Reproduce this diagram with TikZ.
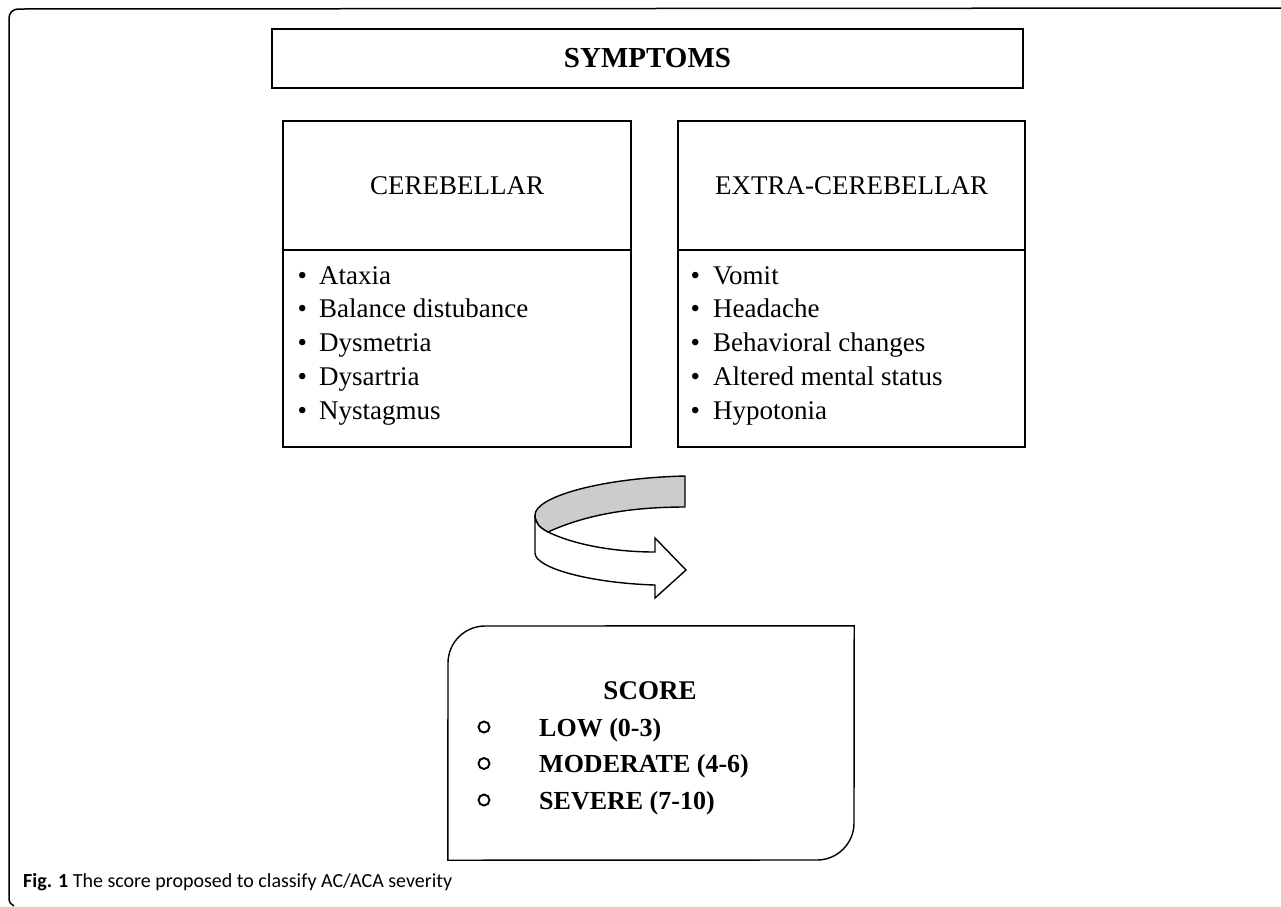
\documentclass[tikz,border=0pt]{standalone}
\usepackage{fontspec}
\setmainfont{Liberation Serif}
\newfontfamily\capfont{Carlito}
\begin{document}
\begin{tikzpicture}[x=1pt,y=-1pt,
  box/.style={draw, line width=1.4pt, inner sep=0pt, outer sep=0pt},
  headtxt/.style={font=\fontsize{27}{30}\selectfont},
  itemtxt/.style={anchor=base west, inner sep=0pt, font=\fontsize{27}{30}\selectfont},
  scoretxt/.style={anchor=base west, inner sep=0pt, font=\bfseries\fontsize{26}{30}\selectfont},
  ring/.style={draw, circle, line width=1.9pt, minimum size=11pt, inner sep=0pt},
  edge/.style={line width=1.4pt, line join=round}]
\useasboundingbox (0,0) rectangle (1281,906);
% outer frame
\draw[line width=1.5pt] (1281,8) -- (18,9) .. controls (13,9) and (9,13) .. (9,18) -- (9,898) .. controls (9,902) and (11,905) .. (14,906);
% symptoms
\node[box, minimum width=751pt, minimum height=59pt, font=\bfseries\fontsize{29}{30}\selectfont] (symp) at (647.5,58.5) {SYMPTOMS};
% cerebellar
\node[box, minimum width=348pt, minimum height=129pt, headtxt] (cerh) at (457,185.5) {CEREBELLAR};
\node[box, minimum width=348pt, minimum height=197pt] (cerl) at (457,348.5) {};
\foreach \t [count=\i] in {Ataxia, Balance distubance, Dysmetria, Dysartria, Nystagmus}
  \node[itemtxt] (c\i) at (297.5,{284+33.75*(\i-1)}) {\makebox[21.5pt][l]{\textbullet}\t};
% extra-cerebellar
\node[box, minimum width=347pt, minimum height=129pt, headtxt] (exth) at (851.5,185.5) {EXTRA-CEREBELLAR};
\node[box, minimum width=347pt, minimum height=197pt] (extl) at (851.5,348.5) {};
\foreach \t [count=\i] in {Vomit, Headache, Behavioral changes, Altered mental status, Hypotonia}
  \node[itemtxt] (e\i) at (690.5,{284+33.75*(\i-1)}) {\makebox[22.5pt][l]{\textbullet}\t};
% curved arrow
\draw[edge, fill=black!20] (685,476) .. controls (600,478) and (535,497) .. (535,515)
  .. controls (535,523) and (540,528) .. (548,532)
  .. controls (585,515) and (630,507) .. (685,507) -- cycle;
\draw[edge, line join=miter, fill=white] (535,515) -- (535,553)
  .. controls (535,568) and (590,583) .. (655,585) -- (655,598) -- (686,570) -- (655,538) -- (655,552)
  .. controls (615,552) and (575,545) .. (548,532)
  .. controls (540,528) and (535,523) .. (535,515) -- cycle;
% score box
\node[inner sep=0pt, minimum width=406pt, minimum height=234pt] (score) at (651,743) {};
\draw[line width=1.4pt] (score.south west) -- (448,663) .. controls (448,642.6) and (464.6,626) .. (485,626)
  -- (score.north east) -- (854,823) .. controls (854,843.4) and (837.4,860) .. (817,860) -- cycle;
\node[anchor=base, inner sep=0pt, font=\bfseries\fontsize{27}{30}\selectfont] (stitle) at (650,699) {SCORE};
\foreach \t [count=\i] in {LOW (0-3), MODERATE (4-6), SEVERE (7-10)} {
  \node[ring] (r\i) at (484,{727+36.5*(\i-1)}) {};
  \node[scoretxt] (s\i) at (539,{736+36.5*(\i-1)}) {\t};
}
% caption
\node[anchor=base west, inner sep=0pt, font=\capfont\fontsize{20}{22}\selectfont] (cap) at (23,887) {\textbf{Fig. 1} The score proposed to classify AC/ACA severity};
\end{tikzpicture}
\end{document}
